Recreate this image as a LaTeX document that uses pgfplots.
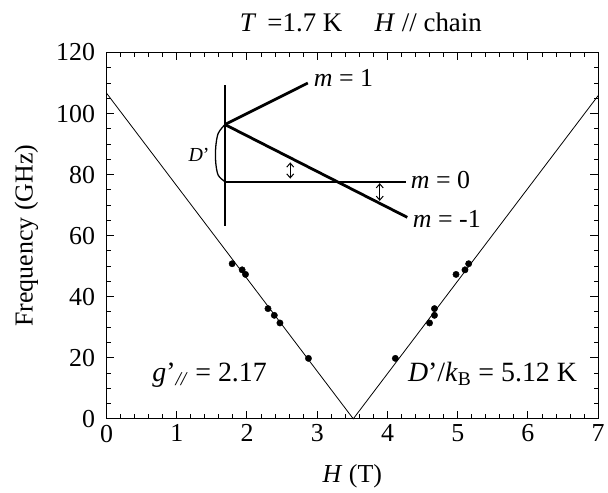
\documentclass[border=0pt]{standalone}
\usepackage{fontspec}
\setmainfont{Liberation Serif}
\usepackage{pgfplots}
\pgfplotsset{compat=1.18}
\usetikzlibrary{arrows.meta}

\newcommand{\fs}[1]{\fontsize{#1}{#1}\selectfont}

\begin{document}
\begin{tikzpicture}
\begin{axis}[
  scale only axis,
  width=494pt, height=368pt,
  xmin=0, xmax=7, ymin=0, ymax=120,
  xtick={0,...,7}, ytick={0,20,...,120},
  minor x tick num=4, minor y tick num=3,
  major tick length=8pt, minor tick length=4.5pt,
  axis line style={line width=1.3pt},
  every tick/.style={line width=1pt, black},
  /pgf/number format/assume math mode=true,
  tick label style={font=\fs{26}},
  xticklabel style={yshift=-2.5pt},
  yticklabel style={xshift=-8pt},
  xlabel={\textit{H} (T)},
  ylabel={Frequency (GHz)},
  label style={font=\fs{26}},
  xlabel style={at={(axis description cs:0.5,-0.158)}, anchor=center},
  ylabel style={at={(axis description cs:-0.163,0.5)}, anchor=center},
  clip=false,
]
% fitted resonance branches
\addplot[black, line width=0.8pt] coordinates {(0,106.7) (3.513,0) (7,105.9)};
% measured points
\addplot[only marks, mark=*, mark size=3.2pt, black] coordinates {
  (1.789,50.8) (1.931,48.8) (1.979,47.3) (2.299,36.1) (2.389,33.9)
  (2.469,31.4) (2.875,19.8)
  (4.112,19.8) (4.599,31.4) (4.669,33.9) (4.669,36.1) (4.976,47.3)
  (5.103,48.8) (5.156,50.8)};
% inset: level scheme
\addplot[black, line width=1.6pt] coordinates {(1.686,63.3) (1.686,109.5)};
\addplot[black, line width=2.8pt] coordinates {(1.686,96.4) (2.866,110.0)};
\addplot[black, line width=2.8pt] coordinates {(1.686,96.4) (4.282,66.0)};
\addplot[black, line width=2.2pt] coordinates {(1.686,77.7) (4.268,77.7)};
\addplot[black, line width=1.3pt, smooth] coordinates {
  (1.686,96.4) (1.59,93.5) (1.555,89) (1.555,84) (1.59,79.8) (1.686,77.7)};
\addplot[black, line width=1pt, {Straight Barb[length=4pt,width=7pt]}-{Straight Barb[length=4pt,width=7pt]}]
  coordinates {(2.616,84.0) (2.616,78.7)};
\addplot[black, line width=1pt, {Straight Barb[length=4pt,width=7pt]}-{Straight Barb[length=4pt,width=7pt]}]
  coordinates {(3.89,77.2) (3.89,71.4)};

\node[anchor=base west, font=\fs{26}, inner sep=0pt] at (axis cs:2.95,108.9) {\textit{m} = 1};
\node[anchor=base west, font=\fs{26}, inner sep=0pt] at (axis cs:4.33,75.4) {\textit{m} = 0};
\node[anchor=base west, font=\fs{26}, inner sep=0pt] at (axis cs:4.36,62.7) {\textit{m} = -1};
\node[anchor=base west, font=\fs{20}, inner sep=0pt] at (axis cs:1.166,84.4) {\textit{D}’};

\node[anchor=base west, font=\fs{28}, inner sep=0pt] at (axis cs:0.65,12.3)
  {\textit{g}’\textsubscript{\textit{//}} = 2.17};
\node[anchor=base west, font=\fs{28}, inner sep=0pt] at (axis cs:4.29,12.3)
  {\textit{D}’/\textit{k}\textsubscript{B} = 5.12 K};
\node[anchor=base, font=\fs{27}, inner sep=0pt] at (axis cs:3.62,126.8)
  {\textit{T}\, =1.7 K\hspace{1.2em}\textit{H} // chain};

% page frame matching the reference proportions
\path (axis cs:-1.516,-24.2) rectangle (axis cs:7.096,137.2);
\end{axis}
\end{tikzpicture}
\end{document}
